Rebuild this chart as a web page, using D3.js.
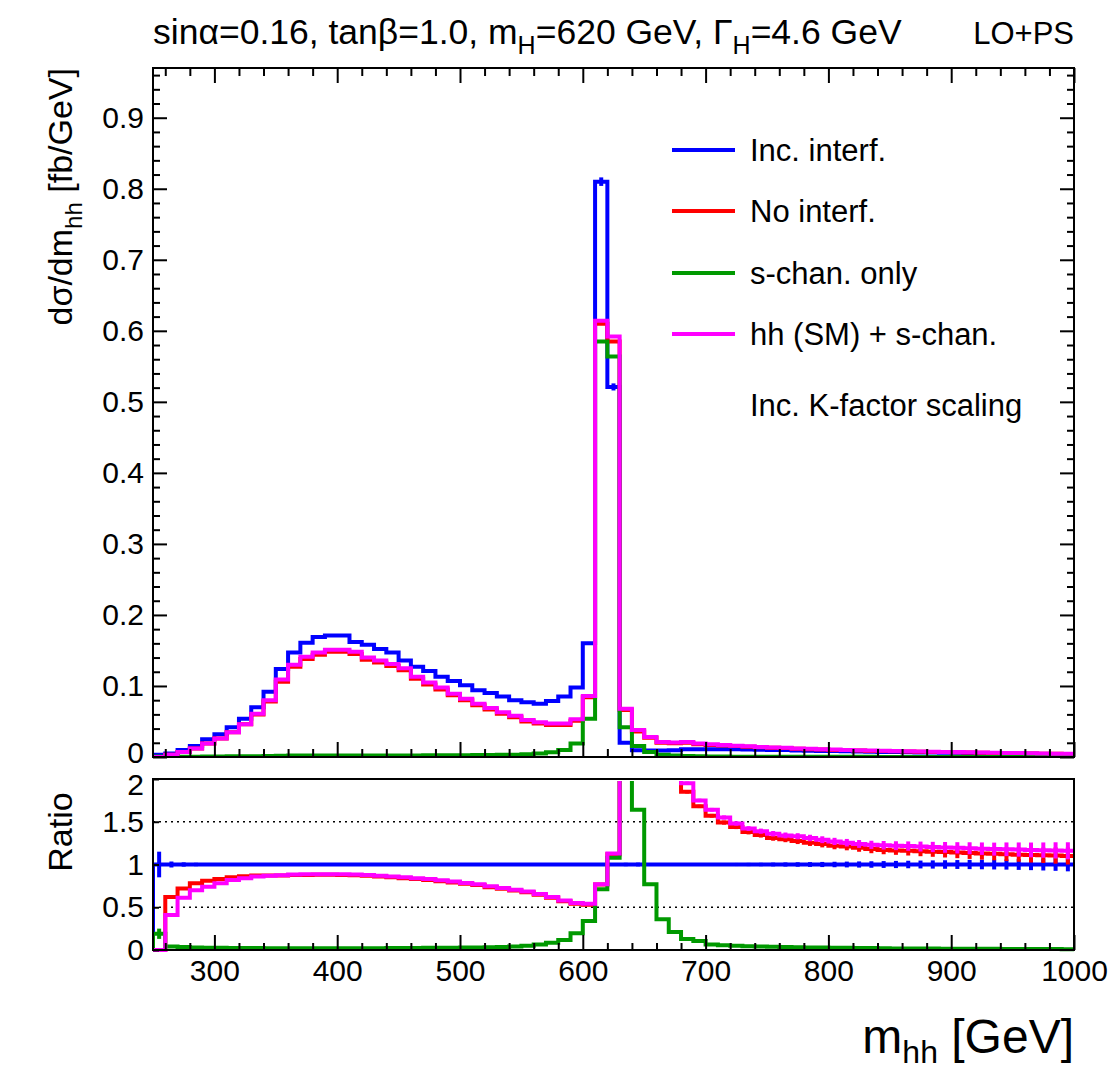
<!DOCTYPE html>
<html><head><meta charset="utf-8">
<script src="https://cdn.jsdelivr.net/npm/d3@7"></script>
<style>
body{margin:0;background:#fff}
text{font-family:"Liberation Sans",Arial,Helvetica,sans-serif;fill:#000}
</style>
</head><body>
<svg id="chart" width="1110" height="1070"></svg>
<script>
// ---------------- DATA ----------------
const binWidth = 10;
const binLow = d3.range(250, 1000, binWidth);          // 75 bins, 250..990 GeV
const xTickValues = [300, 400, 500, 600, 700, 800, 900, 1000];
const yTickValuesMain = [0, 0.1, 0.2, 0.3, 0.4, 0.5, 0.6, 0.7, 0.8, 0.9];
const yTickLabelsMain = ["0", "0.1", "0.2", "0.3", "0.4", "0.5", "0.6", "0.7", "0.8", "0.9"];
const yTickValuesRatio = [0, 0.5, 1, 1.5, 2];
const yTickLabelsRatio = ["0", "0.5", "1", "1.5", "2"];
const legendLabels = ["Inc. interf.", "No interf.", "s-chan. only", "hh (SM) + s-chan."];

// dsigma/dm_hh [fb/GeV]
const incInterf = [
 0.003,0.005,0.010,0.0155,0.025,0.032,0.042,0.054,0.070,0.092,
 0.124,0.147,0.161,0.169,0.171,0.171,0.162,0.158,0.152,0.147,
 0.136,0.127,0.121,0.113,0.107,0.101,0.094,0.090,0.085,0.080,
 0.077,0.075,0.079,0.085,0.098,0.160,0.810,0.521,0.020,0.0095,
 0.009,0.009,0.0095,0.0108,0.0109,0.0110,0.0110,0.0108,0.0106,0.0101,
 0.0099,0.0097,0.0090,0.0088,0.0085,0.0083,0.0080,0.0077,0.0073,0.0072,
 0.0070,0.0066,0.0065,0.0063,0.0060,0.0059,0.0057,0.0054,0.0052,0.0050,
 0.0047,0.0045,0.0043,0.0041,0.0039];
const incInterfErr = [
 0,0,0,0,0,0,0,0,0,0, 0,0,0,0,0,0,0,0,0,0, 0,0,0,0,0,0,0,0,0,0,
 0,0,0,0,0,0.002,0.006,0.005,0,0, 0,0,0,0,0,0,0,0,0,0,
 0,0,0,0,0,0,0,0,0,0, 0,0,0,0,0,0,0,0,0,0, 0,0,0,0,0];
const noInterf = [
 0,0.003,0.007,0.012,0.019,0.026,0.035,0.046,0.060,0.078,
 0.106,0.127,0.138,0.144,0.148,0.148,0.145,0.137,0.133,0.128,
 0.122,0.110,0.102,0.095,0.087,0.080,0.073,0.067,0.061,0.056,
 0.050,0.047,0.045,0.045,0.051,0.084,0.610,0.585,0.066,0.036,
 0.027,0.020,0.0195,0.020,0.018,0.017,0.0163,0.0155,0.0146,0.0136,
 0.013,0.0125,0.0115,0.011,0.0105,0.010,0.0097,0.0092,0.0086,0.0084,
 0.0082,0.0077,0.0075,0.0072,0.0069,0.0067,0.0064,0.0061,0.0058,0.0056,
 0.0052,0.005,0.0047,0.0045,0.0043];
const sChanOnly = [
 0.0006,0.0002,0.0003,0.0005,0.0007,0.0008,0.0009,0.001,0.0012,0.0015,
 0.0018,0.002,0.002,0.0021,0.0021,0.0021,0.0021,0.0021,0.0021,0.0021,
 0.0022,0.0022,0.0023,0.0024,0.0025,0.0026,0.0028,0.0029,0.003,0.0032,
 0.0038,0.0049,0.0067,0.0099,0.019,0.054,0.585,0.564,0.042,0.0155,
 0.0069,0.0033,0.002,0.0014,0.0011,0.0007,0.0006,0.0005,0.0005,0.0004,
 0.0004,0.0003,0.0003,0.0003,0.0002,0.0002,0.0002,0.0002,0.0002,0.0001,
 0.0001,0.0001,0.0001,0.0001,0.0001,0.0001,0.0001,0.0001,0.0001,0.0001,
 0.0001,0.0001,0.0001,0,0];
const hhSMplusS = [
 0,0.003,0.007,0.012,0.019,0.026,0.035,0.046,0.061,0.080,
 0.109,0.130,0.141,0.147,0.151,0.151,0.148,0.140,0.136,0.131,
 0.125,0.113,0.105,0.098,0.089,0.082,0.075,0.069,0.063,0.058,
 0.052,0.049,0.047,0.047,0.053,0.086,0.614,0.592,0.068,0.038,
 0.028,0.021,0.0205,0.021,0.019,0.018,0.017,0.016,0.015,0.014,
 0.0135,0.013,0.012,0.0115,0.011,0.0105,0.010,0.0095,0.009,0.0088,
 0.0085,0.008,0.0078,0.0075,0.0072,0.007,0.0067,0.0064,0.0061,0.0058,
 0.0055,0.0052,0.005,0.0047,0.0045];

// Ratio to "Inc. interf."
const ratioIncInterf = [
 1,1,1,1,1,1,1,1,1,1, 1,1,1,1,1,1,1,1,1,1, 1,1,1,1,1,1,1,1,1,1,
 1,1,1,1,1,1,1,1,1,1, 1,1,1,1,1,1,1,1,1,1, 1,1,1,1,1,1,1,1,1,1,
 1,1,1,1,1,1,1,1,1,1, 1,1,1,1,1];
const ratioIncInterfErr = [
 0.15,0.035,0.025,0.02,0.015,0.008,0.008,0.008,0.008,0.008,
 0.008,0.008,0.008,0.008,0.008,0.008,0.008,0.008,0.008,0.008,
 0.008,0.008,0.008,0.008,0.008,0.008,0.008,0.008,0.008,0.008,
 0.008,0.008,0.008,0.008,0.008,0.006,0.003,0.004,0.02,0.022,
 0.015,0.015,0.015,0.015,0.015,0.016,0.017,0.018,0.019,0.02,
 0.022,0.024,0.026,0.028,0.03,0.032,0.034,0.036,0.038,0.04,
 0.042,0.044,0.046,0.048,0.05,0.052,0.054,0.056,0.058,0.06,
 0.063,0.066,0.07,0.074,0.08];
const ratioNoInterf = [
 0,0.62,0.72,0.78,0.81,0.83,0.85,0.862,0.872,0.872,
 0.872,0.876,0.878,0.879,0.879,0.877,0.873,0.867,0.859,0.85,
 0.84,0.83,0.82,0.805,0.79,0.775,0.76,0.735,0.715,0.695,
 0.675,0.645,0.61,0.57,0.54,0.53,0.765,1.12,4,4,
 3,2.25,2.08,1.85,1.68,1.57,1.49,1.44,1.38,1.345,
 1.31,1.295,1.275,1.255,1.24,1.22,1.21,1.195,1.18,1.17,
 1.165,1.16,1.155,1.15,1.145,1.14,1.135,1.13,1.125,1.12,
 1.115,1.11,1.108,1.105,1.10];
const ratioSChan = [
 0.19,0.04,0.035,0.03,0.027,0.025,0.024,0.023,0.022,0.021,
 0.02,0.02,0.02,0.02,0.02,0.02,0.02,0.02,0.021,0.022,
 0.023,0.024,0.025,0.026,0.027,0.028,0.03,0.032,0.035,0.04,
 0.05,0.065,0.085,0.117,0.195,0.34,0.71,1.08,4,1.64,
 0.77,0.36,0.21,0.13,0.105,0.065,0.055,0.05,0.045,0.04,
 0.037,0.035,0.032,0.03,0.028,0.026,0.025,0.024,0.022,0.02,
 0.019,0.018,0.018,0.017,0.016,0.016,0.015,0.014,0.014,0.013,
 0.012,0.012,0.011,0.011,0.010];
const ratioSChanErr = [
 0.06,0,0,0,0,0,0,0,0,0, 0,0,0,0,0,0,0,0,0,0, 0,0,0,0,0,0,0,0,0,0,
 0,0,0,0,0,0,0,0,0,0, 0,0,0,0,0,0,0,0,0,0, 0,0,0,0,0,0,0,0,0,0,
 0,0,0,0,0,0,0,0,0,0, 0,0,0,0,0];
const ratioHHSMplusS = [
 0,0.41,0.61,0.70,0.74,0.78,0.82,0.84,0.86,0.868,
 0.875,0.882,0.886,0.887,0.887,0.885,0.882,0.876,0.868,0.86,
 0.85,0.84,0.83,0.815,0.80,0.785,0.77,0.745,0.725,0.705,
 0.685,0.655,0.62,0.58,0.55,0.54,0.77,1.13,4,4,
 3.1,2.3,2.15,1.95,1.75,1.64,1.55,1.48,1.42,1.39,
 1.36,1.34,1.33,1.31,1.29,1.27,1.255,1.24,1.23,1.225,
 1.22,1.215,1.21,1.205,1.2,1.195,1.19,1.185,1.18,1.178,
 1.175,1.17,1.168,1.165,1.16];
const ratioHHErr = [
 0,0,0,0,0,0,0,0,0,0, 0,0,0,0,0,0,0,0,0,0, 0,0,0,0,0,0,0,0,0,0,
 0,0,0,0,0,0,0,0,0,0, 0,0,0,0.02,0.02,0.022,0.024,0.026,0.028,0.03,
 0.032,0.034,0.036,0.038,0.04,0.042,0.044,0.046,0.048,0.05,
 0.052,0.055,0.058,0.06,0.063,0.066,0.07,0.073,0.076,0.08,
 0.083,0.087,0.09,0.095,0.10];

// ---------------- LAYOUT ----------------
const BLUE = "#0000ff", RED = "#ff0000", GREEN = "#009900", MAGENTA = "#ff00ff";
const L = 153, R = 1074;
const mainTop = 68, mainBot = 757, ratTop = 779, ratBot = 950;
const svg = d3.select("#chart");

const x = d3.scaleLinear().domain([250, 1000]).range([L, R]);
const yM = d3.scaleLinear().domain([0, 0.97]).range([mainBot, mainTop]);
const yR = d3.scaleLinear().domain([0, 2]).range([ratBot, ratTop]);

const defs = svg.append("defs");
defs.append("clipPath").attr("id", "clipMain").append("rect")
  .attr("x", L).attr("y", mainTop + 1).attr("width", R - L).attr("height", mainBot - mainTop);
defs.append("clipPath").attr("id", "clipRatio").append("rect")
  .attr("x", L).attr("y", ratTop + 2).attr("width", R - L).attr("height", ratBot - ratTop);

function stepPoints(vals) {
  const pts = [[binLow[0], 0]];
  vals.forEach((v, i) => { pts.push([binLow[i], v]); pts.push([binLow[i] + binWidth, v]); });
  return pts;
}
function drawHist(g, vals, errs, ys, color) {
  const line = d3.line().x(d => x(d[0])).y(d => ys(d[1]));
  g.append("path").attr("d", line(stepPoints(vals)))
    .attr("fill", "none").attr("stroke", color).attr("stroke-width", 4)
    .attr("stroke-linejoin", "miter");
  if (errs) {
    g.selectAll(null).data(vals.map((v, i) => ({c: binLow[i] + binWidth / 2, v, e: errs[i]})).filter(d => d.e > 0))
      .join("line")
      .attr("x1", d => x(d.c)).attr("x2", d => x(d.c))
      .attr("y1", d => ys(d.v - d.e)).attr("y2", d => ys(d.v + d.e))
      .attr("stroke", color).attr("stroke-width", 4);
  }
}

// ---------- main panel ----------
const gMain = svg.append("g").attr("clip-path", "url(#clipMain)");
drawHist(gMain, incInterf, incInterfErr, yM, BLUE);
drawHist(gMain, noInterf, null, yM, RED);
drawHist(gMain, sChanOnly, null, yM, GREEN);
drawHist(gMain, hhSMplusS, null, yM, MAGENTA);

// ---------- ratio panel ----------
const gGrid = svg.append("g");
gGrid.selectAll("line").data([0.5, 1, 1.5]).join("line")
  .attr("x1", L).attr("x2", R).attr("y1", d => yR(d)).attr("y2", d => yR(d))
  .attr("stroke", "#000").attr("stroke-width", 1.6).attr("stroke-dasharray", "2,4");

const gRat = svg.append("g").attr("clip-path", "url(#clipRatio)");
drawHist(gRat, ratioIncInterf, ratioIncInterfErr, yR, BLUE);
drawHist(gRat, ratioNoInterf, ratioHHErr, yR, RED);
drawHist(gRat, ratioSChan, ratioSChanErr, yR, GREEN);
drawHist(gRat, ratioHHSMplusS, ratioHHErr, yR, MAGENTA);

// ---------- axes / ticks ----------
const xMinor = d3.range(260, 1000, 20).filter(v => v % 100 !== 0);
const yMinorMain = d3.range(0.02, 0.97, 0.02).map(v => +v.toFixed(2)).filter(v => Math.round(v * 100) % 10 !== 0);
function ticks(axis, tr, size) {
  svg.append("g").attr("transform", tr).call(axis.tickSize(size).tickFormat(""))
    .call(g => g.select(".domain").remove())
    .call(g => g.selectAll("line").attr("stroke", "#000").attr("stroke-width", 2));
}
ticks(d3.axisTop(x).tickValues(xTickValues), `translate(0,${mainBot})`, 15);
ticks(d3.axisTop(x).tickValues(xMinor), `translate(0,${mainBot})`, 8);
ticks(d3.axisBottom(x).tickValues(xTickValues), `translate(0,${mainTop})`, 15);
ticks(d3.axisBottom(x).tickValues(xMinor), `translate(0,${mainTop})`, 8);
ticks(d3.axisRight(yM).tickValues(yTickValuesMain), `translate(${L},0)`, 14);
ticks(d3.axisRight(yM).tickValues(yMinorMain), `translate(${L},0)`, 7);
ticks(d3.axisLeft(yM).tickValues(yTickValuesMain), `translate(${R},0)`, 14);
ticks(d3.axisLeft(yM).tickValues(yMinorMain), `translate(${R},0)`, 7);
ticks(d3.axisTop(x).tickValues(xTickValues), `translate(0,${ratBot})`, 15);
ticks(d3.axisTop(x).tickValues(xMinor), `translate(0,${ratBot})`, 7);
ticks(d3.axisRight(yR).tickValues(yTickValuesRatio), `translate(${L},0)`, 6);

// frames
[[mainTop, mainBot], [ratTop, ratBot]].forEach(([t, b]) => {
  svg.append("rect").attr("x", L).attr("y", t).attr("width", R - L).attr("height", b - t)
    .attr("fill", "none").attr("stroke", "#000").attr("stroke-width", 2);
});

// tick labels
const FS = 30;
svg.append("g").attr("transform", `translate(0,${ratBot})`)
  .call(d3.axisBottom(x).tickValues(xTickValues).tickSize(0).tickPadding(10).tickFormat(d3.format("d")))
  .call(g => g.select(".domain").remove())
  .call(g => g.selectAll("text").attr("font-size", FS).attr("font-family", "Liberation Sans, Arial, sans-serif"));
svg.append("g").attr("transform", `translate(${L},0)`)
  .call(d3.axisLeft(yM).tickValues(yTickValuesMain).tickSize(0).tickPadding(9).tickFormat((d, i) => yTickLabelsMain[i]))
  .call(g => g.select(".domain").remove())
  .call(g => g.selectAll("text").attr("font-size", FS).attr("font-family", "Liberation Sans, Arial, sans-serif")
      .attr("dy", (d) => d === 0 ? "0.18em" : "0.32em"));
svg.append("g").attr("transform", `translate(${L},0)`)
  .call(d3.axisLeft(yR).tickValues(yTickValuesRatio).tickSize(0).tickPadding(9).tickFormat((d, i) => yTickLabelsRatio[i]))
  .call(g => g.select(".domain").remove())
  .call(g => g.selectAll("text").attr("font-size", FS).attr("font-family", "Liberation Sans, Arial, sans-serif")
      .attr("dy", (d) => d === 2 ? "0.5em" : "0.32em"));

// ---------- titles ----------
const title = svg.append("text").attr("x", L).attr("y", 44).attr("font-size", 35.5);
title.append("tspan").text("sinα=0.16, tanβ=1.0, m");
title.append("tspan").attr("font-size", 25).attr("dy", 10).text("H");
title.append("tspan").attr("dy", -10).text("=620 GeV, Γ");
title.append("tspan").attr("font-size", 25).attr("dy", 10).text("H");
title.append("tspan").attr("dy", -10).text("=4.6 GeV");
svg.append("text").attr("x", R).attr("y", 44).attr("font-size", 31).attr("text-anchor", "end").text("LO+PS");

// y title
const yt = svg.append("text").attr("transform", `translate(72,${mainTop}) rotate(-90)`)
  .attr("text-anchor", "end").attr("font-size", 34);
yt.append("tspan").text("dσ/dm");
yt.append("tspan").attr("font-size", 24).attr("dy", 10).text("hh");
yt.append("tspan").attr("dy", -10).text(" [fb/GeV]");
svg.append("text").attr("transform", `translate(72,832) rotate(-90)`)
  .attr("text-anchor", "middle").attr("font-size", 34).text("Ratio");

// x title
const xt = svg.append("text").attr("x", R).attr("y", 1053).attr("text-anchor", "end").attr("font-size", 48);
xt.append("tspan").text("m");
xt.append("tspan").attr("font-size", 32).attr("dy", 10).text("hh");
xt.append("tspan").attr("dy", -10).text(" [GeV]");

// ---------- legend ----------
const legColors = [BLUE, RED, GREEN, MAGENTA];
const legY = [150, 211, 273, 334];
const leg = svg.append("g");
legendLabels.forEach((lab, i) => {
  leg.append("line").attr("x1", 672).attr("x2", 735).attr("y1", legY[i]).attr("y2", legY[i])
    .attr("stroke", legColors[i]).attr("stroke-width", 4);
  leg.append("text").attr("x", 750).attr("y", legY[i] + 11).attr("font-size", 31).text(lab);
});
leg.append("text").attr("x", 750).attr("y", 416).attr("font-size", 31).text("Inc. K-factor scaling");
</script>
</body></html>
